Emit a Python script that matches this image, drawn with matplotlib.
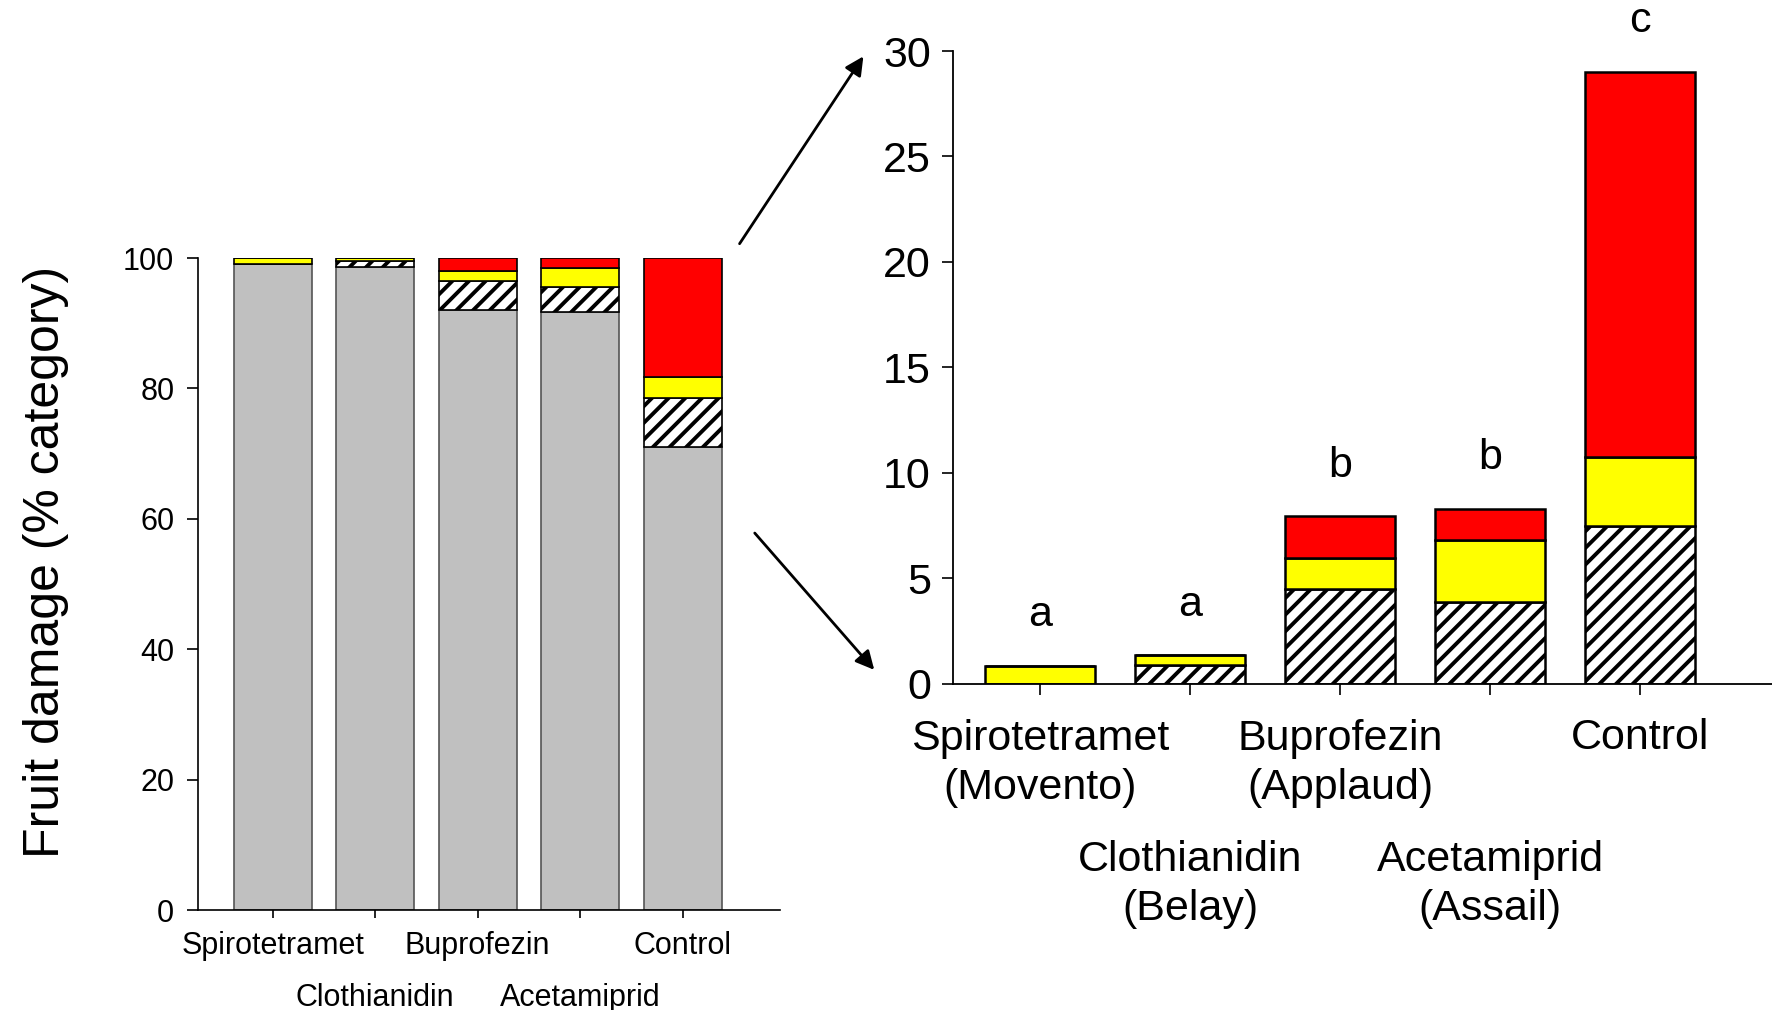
import numpy as np
import matplotlib
matplotlib.use('Agg')
import matplotlib.pyplot as plt
from matplotlib.patches import FancyArrowPatch

plt.rcParams['font.family'] = ['Liberation Sans', 'DejaVu Sans']
plt.rcParams['hatch.linewidth'] = 2.8

# data
products = ['Spirotetramet', 'Clothianidin', 'Buprofezin', 'Acetamiprid', 'Control']
trade_names = ['(Movento)', '(Belay)', '(Applaud)', '(Assail)', '']
undamaged = [99.15, 98.65, 92.05, 91.7, 71.0]   # grey part, left panel
hatched = [0.0, 0.9, 4.5, 3.9, 7.5]
yellow = [0.85, 0.45, 1.45, 2.9, 3.25]
red = [0.0, 0.0, 2.0, 1.5, 18.25]
letters = ['a', 'a', 'b', 'b', 'c']

GREY = '#c0c0c0'
YEL = '#ffff00'
RED = '#ff0000'

fig = plt.figure(figsize=(17.72, 10.10), dpi=100)
ax1 = fig.add_axes([0.1117, 0.099, 0.3285, 0.6455])
ax2 = fig.add_axes([0.5378, 0.3228, 0.4622, 0.6267])

x = np.arange(len(products))
undamaged = np.array(undamaged)
hatched = np.array(hatched)
yellow = np.array(yellow)
red = np.array(red)


def stack(ax, base, width, lw):
    b = np.array(base, dtype=float)
    ax.bar(x, hatched, width, bottom=b, color='white', edgecolor='black',
           hatch='//', linewidth=lw)
    b = b + hatched
    ax.bar(x, yellow, width, bottom=b, color=YEL, edgecolor='black', linewidth=lw)
    b = b + yellow
    ax.bar(x, red, width, bottom=b, color=RED, edgecolor='black', linewidth=lw)
    return b + red


# ---- left panel: whole fruit, % per category
ax1.bar(x, undamaged, 0.76, color=GREY, edgecolor='#555555', linewidth=1.2)
stack(ax1, undamaged, 0.76, 1.2)
ax1.set_xlim(-0.73, 4.95)
ax1.set_ylim(0, 100)
ax1.set_yticks(np.arange(0, 101, 20))
ax1.tick_params(axis='y', labelsize=22, length=8, width=1.2, pad=9)
ax1.tick_params(axis='x', length=6, width=1.2)
ax1.set_xticks(x)
ax1.set_xticklabels([])
for s in ['top', 'right']:
    ax1.spines[s].set_visible(False)
for s in ['left', 'bottom']:
    ax1.spines[s].set_linewidth(1.2)
for i, name in enumerate(products):
    off = -32 if i % 2 == 0 else -69
    ax1.annotate(name, xy=(x[i], 0), xytext=(0, off), textcoords='offset points',
                 ha='center', va='baseline', fontsize=22, annotation_clip=False)
ax1.set_ylabel('Fruit damage (% category)', fontsize=36)
ax1.yaxis.set_label_coords(-0.222, 0.534)

# ---- right panel: damaged part zoomed in
tops = stack(ax2, np.zeros(len(x)), 0.73, 1.8)
ax2.set_xlim(-0.58, 4.88)
ax2.set_ylim(0, 30)
ax2.set_yticks(np.arange(0, 31, 5))
ax2.tick_params(axis='y', labelsize=31, length=8, width=1.2, pad=8)
ax2.tick_params(axis='x', length=8, width=1.2)
ax2.set_xticks(x)
ax2.set_xticklabels([])
for s in ['top', 'right']:
    ax2.spines[s].set_visible(False)
for s in ['left', 'bottom']:
    ax2.spines[s].set_linewidth(1.3)
for i, name in enumerate(products):
    if trade_names[i]:
        label = name + '\n' + trade_names[i]
        off = -83 if i % 2 == 0 else -170
    else:
        label = name
        off = -47
    ax2.annotate(label, xy=(x[i], 0), xytext=(0, off), textcoords='offset points',
                 ha='center', va='baseline', fontsize=31, annotation_clip=False,
                 linespacing=1.3)
for i, let in enumerate(letters):
    ax2.text(x[i], tops[i] + 2.4, let, ha='center', va='center', fontsize=31,
             clip_on=False)

# ---- arrows linking the panels
for a, b in [((0.4165, 0.7564), (0.4881, 0.9465)),
             ((0.4249, 0.4743), (0.4944, 0.3347))]:
    fig.add_artist(FancyArrowPatch(a, b, transform=fig.transFigure,
                                   arrowstyle='-|>', mutation_scale=28,
                                   linewidth=2, color='black'))

fig.savefig('out.png', dpi=100)
